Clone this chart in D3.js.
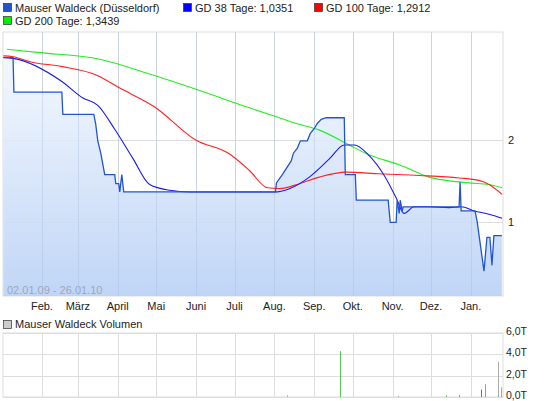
<!DOCTYPE html>
<html><head><meta charset="utf-8">
<script src="https://cdn.jsdelivr.net/npm/d3@7"></script>
<style>body{margin:0;background:#fff}text{font-family:"Liberation Sans",Arial,sans-serif}</style>
</head><body><svg id="c" width="545" height="401"></svg>
<script>
// days since 2009-01-02
const priceDays=[0,7.5,8.2,45.5,46.3,70.4,71.9,73.5,75.8,78.9,86.7,87.5,89.8,90.6,92.2,93.7,211.8,212.6,217.2,224.2,225.8,228.9,231.2,236.6,239,242.1,244.4,247.5,251.4,265.4,266.2,274,274.8,299.6,301.2,305.8,306.6,308.2,309,310.5,311.3,354.8,355.6,356.4,367.2,368.8,374.2,376.5,378.8,380.4,381.9,388.1];
const priceVals=[3.0,3.0,2.58,2.58,2.31,2.31,2.19,1.99,1.84,1.58,1.58,1.47,1.47,1.37,1.58,1.37,1.37,1.48,1.58,1.75,1.84,1.90,1.99,1.99,2.08,2.14,2.20,2.25,2.27,2.27,1.58,1.58,1.27,1.27,1.0,1.0,1.27,1.11,1.27,1.14,1.19,1.19,1.49,1.14,1.14,1.02,0.41,0.82,0.82,0.48,0.84,0.84];
const gd38Days=[0,7.5,45.5,61.9,73.5,86.7,100.7,113.9,129.4,145,211,222.7,238.2,253.8,265.4,273.2,284.8,296.5,305.8,312,319.8,331.5,347,356.4,366.5,378.2,388.3];
const gd38Vals=[3.0,2.99,2.71,2.51,2.42,2.13,1.78,1.46,1.39,1.37,1.37,1.41,1.55,1.77,1.94,1.94,1.81,1.57,1.30,1.11,1.19,1.19,1.18,1.19,1.14,1.10,1.05];
const gd100Days=[0,7.5,20.7,45.5,73.5,90.6,117.8,149.7,176.1,191.6,205.6,214.9,230.5,246,267,292.6,323.7,354.8,370.3,378.1,388.3];
const gd100Vals=[3.02,3.01,2.95,2.89,2.78,2.63,2.40,2.0,1.83,1.63,1.42,1.41,1.47,1.55,1.61,1.59,1.57,1.54,1.51,1.46,1.34];
const gd200Days=[2.8,28.4,75.1,113.9,152.8,191.6,214.9,230.5,246,269.3,284.8,308.1,331.5,362.6,378.1,388.3];
const gd200Vals=[3.10,3.06,2.98,2.80,2.60,2.39,2.27,2.19,2.12,1.94,1.82,1.70,1.55,1.48,1.46,1.42];
const volDays=[221,262,307,345,355,372,375,385,387.5];
const volVals=[0.15,4.3,0.1,0.15,0.2,0.7,1.2,3.3,0.9];
const volColors=["#aaa","#55cc55","#aaa","#55cc55","#55cc55","#dd4444","#55cc55","#aaa","#aaa"];
const monthLabels=["Feb.","März","April","Mai","Juni","Juli","Aug.","Sep.","Okt.","Nov.","Dez.","Jan."];
const priceTicks=[1,2];
const volTicks=[0,2,4,6];
const volTickLabels=["0,0T","2,0T","4,0T","6,0T"];
const legend=[["Mauser Waldeck (Düsseldorf)","#2255cc",3,8],["GD 38 Tage: 1,0351","#0000ff",183,8],["GD 100 Tage: 1,2912","#ff0000",314,8],["GD 200 Tage: 1,3439","#00ee00",3,21]];

const svg=d3.select("#c");
const t0=new Date(2009,0,2);
const day=d=>t0.getTime()+d*864e5;
const x=d3.scaleTime().domain([t0,new Date(2010,0,26)]).range([3.4,503]);
const y=d3.scaleLinear().domain([0.108,3.31]).range([296,32]);
const yv=d3.scaleLinear().domain([0,6]).range([397,333]);
const months=d3.range(1,13).map(i=>new Date(2009,i,1));

const defs=svg.append("defs");
const g=defs.append("linearGradient").attr("id","gr").attr("x1",0).attr("y1",0).attr("x2",0).attr("y2",1);
g.append("stop").attr("offset","0").attr("stop-color","#f2f7fe");
g.append("stop").attr("offset","1").attr("stop-color","#b9d1f5");
defs.append("clipPath").attr("id","cp").append("rect").attr("x",3).attr("y",32).attr("width",500).attr("height",264);

legend.forEach(([t,c,lx,ly])=>{
  svg.append("rect").attr("x",lx+0.5).attr("y",ly-4.5).attr("width",8).attr("height",8).attr("fill",c).attr("stroke","#333").attr("stroke-width",0.7);
  svg.append("text").attr("x",lx+12).attr("y",ly+4).attr("font-size",11).attr("fill","#222").text(t);
});

svg.append("rect").attr("x",3).attr("y",32).attr("width",500).attr("height",264).attr("fill","#fff").attr("stroke","#ddd");
svg.selectAll(".vg").data(months).join("line").attr("x1",d=>Math.round(x(d))+0.5).attr("x2",d=>Math.round(x(d))+0.5).attr("y1",32).attr("y2",296).attr("stroke","#ddd");
svg.selectAll(".hg").data(priceTicks).join("line").attr("x1",3).attr("x2",503).attr("y1",d=>Math.round(y(d))+0.5).attr("y2",d=>Math.round(y(d))+0.5).attr("stroke","#ddd");

const pts=(ds,vs)=>ds.map((d,i)=>[day(d),vs[i]]);
const cp=svg.append("g").attr("clip-path","url(#cp)");
const price=pts(priceDays,priceVals);
cp.append("path").attr("d",d3.area().x(d=>x(d[0])).y0(296).y1(d=>y(d[1]))(price)).attr("fill","url(#gr)").attr("opacity",0.9);
cp.selectAll(".vg2").data(months).join("line").attr("x1",d=>Math.round(x(d))+0.5).attr("x2",d=>Math.round(x(d))+0.5).attr("y1",32).attr("y2",296).attr("stroke","#a8bfe0").attr("stroke-opacity",0.35);
const ln=d3.line().x(d=>x(d[0])).y(d=>y(d[1]));
const sm=d3.line().curve(d3.curveMonotoneX).x(d=>x(d[0])).y(d=>y(d[1]));
cp.append("path").attr("d",sm(pts(gd200Days,gd200Vals))).attr("fill","none").attr("stroke","#22ee22").attr("stroke-width",1.1);
cp.append("path").attr("d",sm(pts(gd100Days,gd100Vals))).attr("fill","none").attr("stroke","#ff2222").attr("stroke-width",1.1);
cp.append("path").attr("d",sm(pts(gd38Days,gd38Vals))).attr("fill","none").attr("stroke","#1a1aee").attr("stroke-width",1.1);
cp.append("path").attr("d",ln(price)).attr("fill","none").attr("stroke","#2255cc").attr("stroke-width",1.3);

svg.selectAll(".yl").data(priceTicks).join("text").attr("x",508).attr("y",d=>y(d)+4).attr("font-size",11).attr("fill","#222").text(d=>d);
svg.append("text").attr("x",7).attr("y",294).attr("font-size",11).attr("fill","#9aa8bd").text("02.01.09 - 26.01.10");
svg.selectAll(".ml").data(months).join("text").attr("x",d=>x(d)).attr("y",310).attr("text-anchor","middle").attr("font-size",11).attr("fill","#222").text((d,i)=>monthLabels[i]);

svg.append("rect").attr("x",3.5).attr("y",320.5).attr("width",8).attr("height",8).attr("fill","#ccc").attr("stroke","#333").attr("stroke-width",0.7);
svg.append("text").attr("x",15).attr("y",328).attr("font-size",11).attr("fill","#222").text("Mauser Waldeck Volumen");
svg.append("rect").attr("x",3).attr("y",333).attr("width",500).attr("height",64).attr("fill","#fff").attr("stroke","#ddd");
svg.selectAll(".vv").data(months).join("line").attr("x1",d=>Math.round(x(d))+0.5).attr("x2",d=>Math.round(x(d))+0.5).attr("y1",333).attr("y2",397).attr("stroke","#ddd");
svg.selectAll(".vh").data(volTicks).join("line").attr("x1",3).attr("x2",503).attr("y1",d=>Math.round(yv(d))+0.5).attr("y2",d=>Math.round(yv(d))+0.5).attr("stroke","#ddd");
svg.selectAll(".vb").data(volDays).join("rect").attr("x",d=>Math.round(x(day(d)))).attr("width",1).attr("y",(d,i)=>yv(volVals[i])).attr("height",(d,i)=>397-yv(volVals[i])).attr("fill",(d,i)=>volColors[i]);
svg.selectAll(".vl").data(volTicks).join("text").attr("x",506).attr("y",d=>Math.min(yv(d)+2,399)).attr("font-size",10.5).attr("fill","#222").text((d,i)=>volTickLabels[i]);
</script></body></html>
